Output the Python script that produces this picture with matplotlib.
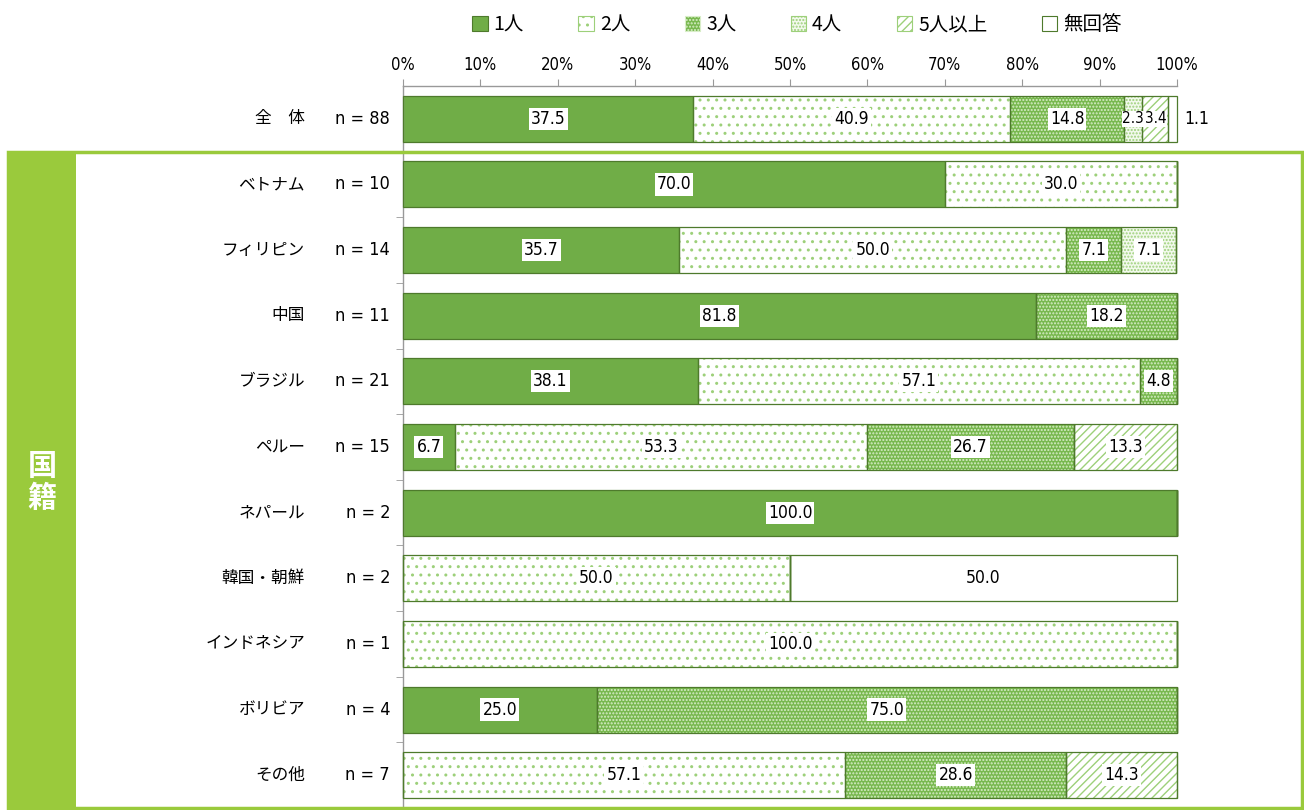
import matplotlib
matplotlib.use("Agg")
import matplotlib.pyplot as plt
import matplotlib.transforms as mtransforms
from matplotlib.patches import Rectangle, Patch

plt.rcParams['font.family'] = ['Noto Sans CJK JP', 'DejaVu Sans']
plt.rcParams['hatch.linewidth'] = 1.0
NUM = dict(family='DejaVu Sans', fontstretch='condensed')

# data
categories = ["全　体", "ベトナム", "フィリピン", "中国", "ブラジル", "ペルー",
              "ネパール", "韓国・朝鮮", "インドネシア", "ボリビア", "その他"]
n_labels = ["n = 88", "n = 10", "n = 14", "n = 11", "n = 21", "n = 15",
            "n = 2", "n = 2", "n = 1", "n = 4", "n = 7"]
series_names = ["1人", "2人", "3人", "4人", "5人以上", "無回答"]
one = [37.5, 70.0, 35.7, 81.8, 38.1, 6.7, 100.0, 0, 0, 25.0, 0]
two = [40.9, 30.0, 50.0, 0, 57.1, 53.3, 0, 50.0, 100.0, 0, 57.1]
three = [14.8, 0, 7.1, 18.2, 4.8, 26.7, 0, 0, 0, 75.0, 28.6]
four = [2.3, 0, 7.1, 0, 0, 0, 0, 0, 0, 0, 0]
five = [3.4, 0, 0, 0, 0, 13.3, 0, 0, 0, 0, 14.3]
no_ans = [1.1, 0, 0, 0, 0, 0, 0, 50.0, 0, 0, 0]
series = [one, two, three, four, five, no_ans]

GREEN = '#70AD47'
LIGHT = '#9DD07A'
EDGE = '#4E7A2C'
BOX = '#9ACA3C'

# facecolor, hatch colour, hatch
styles = [
    (GREEN, GREEN, None),
    ('white', LIGHT, '..'),
    ('#78B84E', '#D8EDC8', '.....'),
    ('#F2F9EC', LIGHT, '.....'),
    ('white', LIGHT, '////'),
    ('white', 'white', None),
]

fig = plt.figure(figsize=(13.04, 8.10), dpi=100)
ax = fig.add_axes([403 / 1304, 1 - 808 / 810, 774 / 1304, 722 / 810])

rows = list(range(len(categories)))
left = [0.0] * len(categories)
for s, vals in enumerate(series):
    fc, hc, hatch = styles[s]
    ax.barh(rows, vals, left=left, height=0.7, color=fc, edgecolor=hc,
            linewidth=0, hatch=hatch, zorder=2)
    ax.barh(rows, vals, left=left, height=0.7, fill=False, edgecolor=EDGE,
            linewidth=0.9, zorder=3, clip_on=False)
    for i, v in enumerate(vals):
        if v > 0:
            if s == 5 and v < 2:
                ax.text(101.0, i, f"{v:.1f}", ha='left', va='center',
                        fontsize=12.5, zorder=5, **NUM)
            else:
                small = v < 4
                ax.text(left[i] + v / 2, i, f"{v:.1f}", ha='center', va='center',
                        fontsize=11 if small else 12.5, zorder=5, **NUM,
                        bbox=dict(boxstyle='square,pad=%s' % (0.04 if small else 0.12),
                                  fc='white', ec='none'))
    left = [a + b for a, b in zip(left, vals)]

ax.set_xlim(0, 100)
ax.set_ylim(len(categories) - 0.5, -0.5)
ax.xaxis.tick_top()
ax.set_xticks(range(0, 101, 10))
ax.set_xticklabels([f"{t}%" for t in range(0, 101, 10)], fontsize=12, **NUM)
ax.tick_params(axis='x', length=5, color='#999999', pad=4)
ax.set_yticks([])
ax.set_yticks([r + 0.5 for r in rows], minor=True)
ax.tick_params(axis='y', which='minor', length=5, color='#999999')
for side in ['right', 'bottom']:
    ax.spines[side].set_visible(False)
for side in ['left', 'top']:
    ax.spines[side].set_color('#999999')
    ax.spines[side].set_linewidth(1.0)

trans = mtransforms.blended_transform_factory(fig.transFigure, ax.transData)
for i, (c, n) in enumerate(zip(categories, n_labels)):
    ax.text(305 / 1304, i, c, transform=trans, ha='right', va='center', fontsize=12)
    ax.text(390 / 1304, i, n, transform=trans, ha='right', va='center',
            fontsize=13, **NUM)

# frame for the nationality group
fig.patches.append(Rectangle((8 / 1304, 1 - 808 / 810), 1294 / 1304, 656 / 810,
                             transform=fig.transFigure, fill=False,
                             edgecolor=BOX, linewidth=2.5, zorder=0))
fig.patches.append(Rectangle((8 / 1304, 1 - 808 / 810), 68 / 1304, 656 / 810,
                             transform=fig.transFigure, facecolor=BOX,
                             edgecolor='none', zorder=0))
fig.text(42 / 1304, 1 - 482 / 810, "国\n籍", ha='center', va='center', color='white',
         fontsize=21, fontweight='bold', linespacing=1.05)

handles = []
for s, name in enumerate(series_names):
    fc, hc, hatch = styles[s]
    handles.append(Patch(facecolor=fc, edgecolor=hc if hatch else EDGE, hatch=hatch,
                         linewidth=0.8, label=name))
handles[5] = Patch(facecolor='white', edgecolor=EDGE, linewidth=0.8, label=series_names[5])
fig.legend(handles=handles, loc='center', bbox_to_anchor=(797 / 1304, 1 - 25 / 810),
           ncol=6, frameon=False, fontsize=14, handlelength=0.8, handleheight=0.8,
           handletextpad=0.3, columnspacing=2.8)

fig.savefig('out.png', dpi=100)
